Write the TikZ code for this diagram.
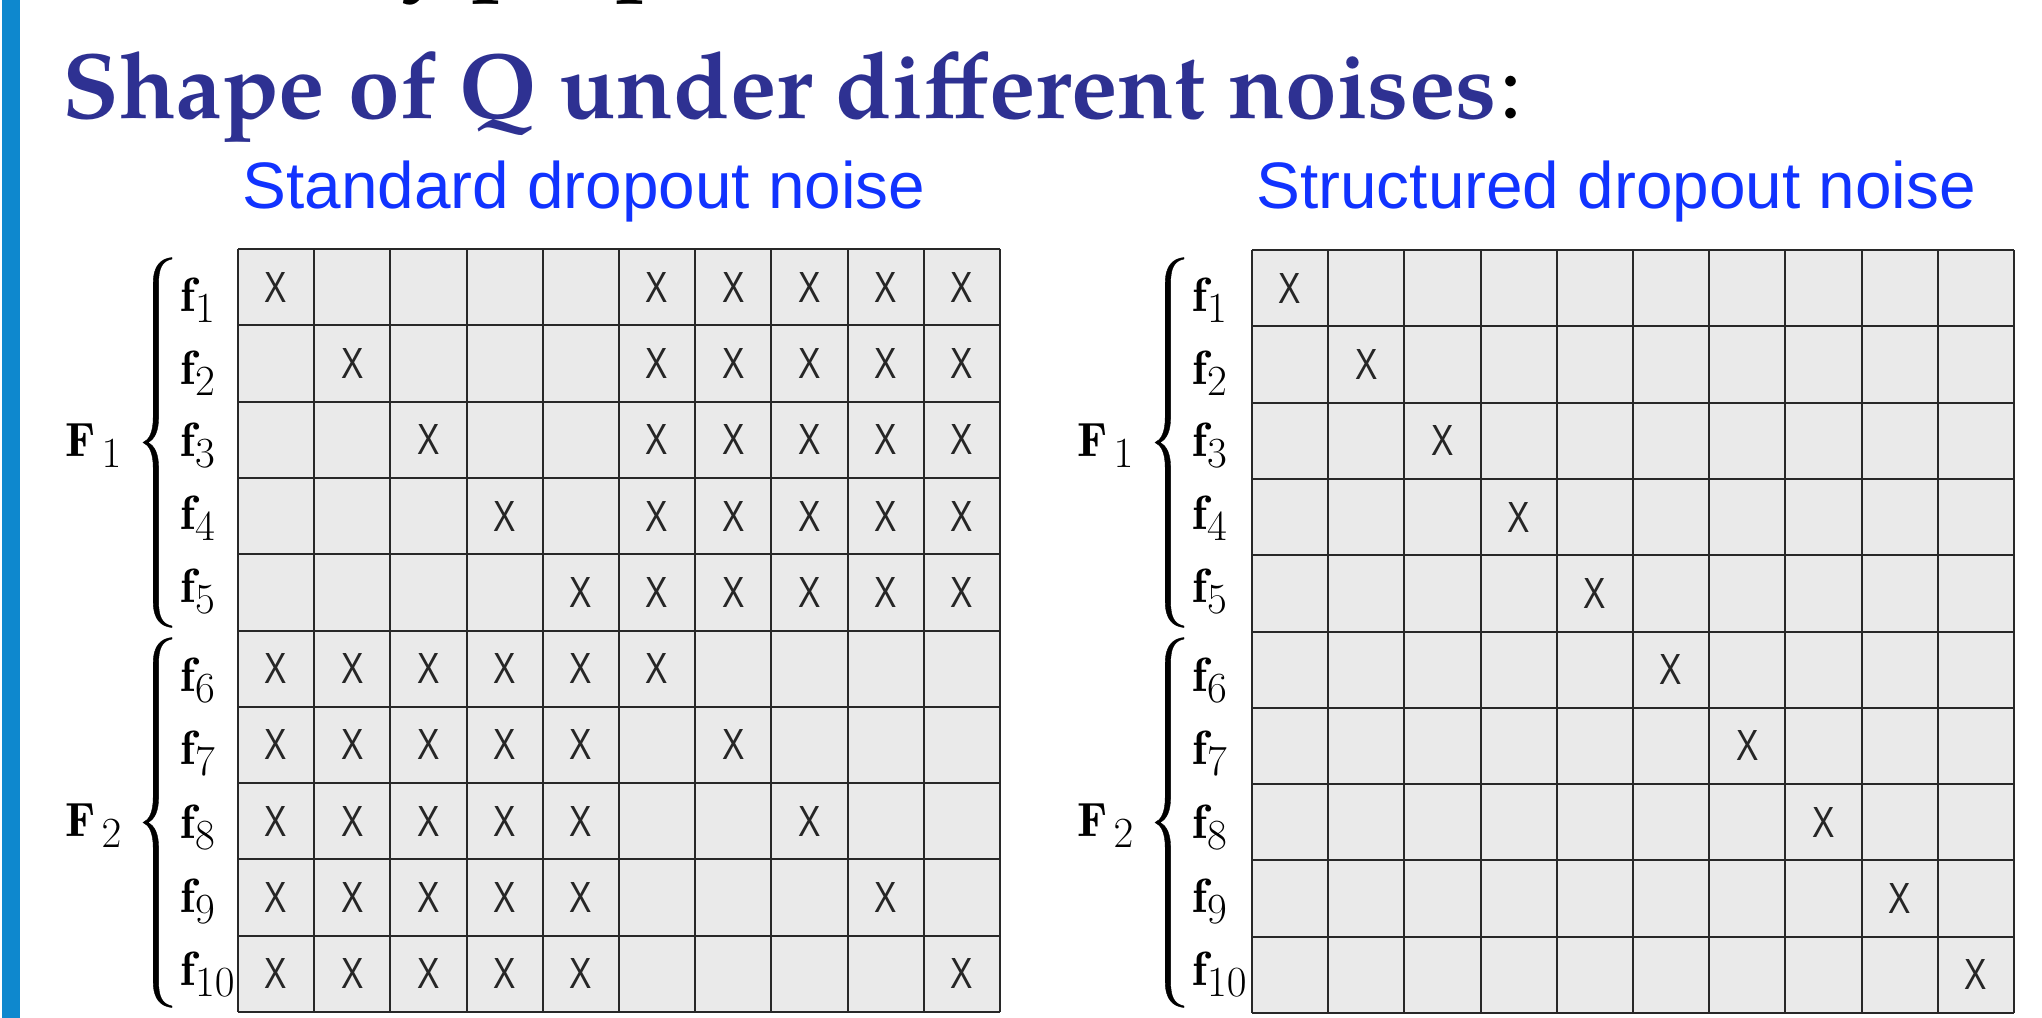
\RequirePackage{fix-cm}
\documentclass[tikz,border=0pt]{standalone}
\usepackage{graphicx}
\usepackage{fontspec}
\DeclareMathSizes{24}{24}{21.5}{15}
\newfontfamily\titlefont{TeX Gyre Pagella}
\newfontfamily\helv{Liberation Sans}
\definecolor{titleblue}{RGB}{46,49,146}
\definecolor{headblue}{RGB}{17,51,255}
\definecolor{barblue}{RGB}{14,136,206}
\definecolor{cellgray}{RGB}{234,234,234}
\definecolor{gridline}{RGB}{40,40,40}
\newcommand\xglyph{\resizebox*{11.2pt}{15pt}{X}}
\tikzset{
  gridln/.style={draw=gridline, line width=1pt},
  xmark/.style={font=\helv\fontsize{16}{17}\selectfont, text=black!85, inner sep=0, anchor=center},
  flab/.style={anchor=base west, inner sep=0, font=\fontsize{24}{28}\selectfont},
  bracefill/.style={fill=black, draw=black, line width=0.2pt},
  heading/.style={anchor=base west, inner sep=0, text=headblue, font=\helv\fontsize{32.85}{36}\selectfont},
  titletext/.style={anchor=base west, inner sep=0, font=\titlefont\bfseries\fontsize{46.4}{50}\selectfont},
}
\begin{document}
\begin{tikzpicture}[x=0.5pt,y=-0.5pt]
\useasboundingbox (0,0) rectangle (2042,1018);
\begin{scope}
\clip (0,0) rectangle (2042,1018);
% left accent bar
\fill[barblue] (2,0) rectangle (20,1018);
% cut-off line above the title
\node[titletext, anchor=base east] (cut1) at (452,-20) {y};
\node[titletext] (cut2) at (470,-20) {properties};
% title
\node[titletext, text=titleblue] (title) at (62,118) {Shape of Q under different noises};
\node[anchor=base west, inner sep=0, font=\titlefont\fontsize{46.4}{50}\selectfont, xshift=1pt] (colon) at (title.base east) {:};
% headings
\node[heading] (h1) at (242,208) {Standard dropout noise};
\node[heading] (h2) at (1256,208) {Structured dropout noise};
% grids
\foreach \gx/\gy in {238/249, 1252/250} {
  \fill[cellgray] (\gx,\gy) rectangle ({\gx+762},{\gy+763});
  \foreach \i in {0,...,10} {
    \draw[gridln] ({\gx+\i*76.2},\gy) -- ({\gx+\i*76.2},{\gy+763});
    \draw[gridln] (\gx,{\gy+\i*76.3}) -- ({\gx+762},{\gy+\i*76.3});
  }
}
% X marks, left grid
\foreach \r in {1,...,5} {
  \node[xmark] (L-\r-\r) at ({238+(\r-0.5)*76.2},{249+(\r-0.5)*76.3}) {\xglyph};
  \foreach \c in {6,...,10} {
    \node[xmark] (L-\r-\c) at ({238+(\c-0.5)*76.2},{249+(\r-0.5)*76.3}) {\xglyph};
  }
}
\foreach \r in {6,...,10} {
  \foreach \c in {1,...,5} {
    \node[xmark] (L-\r-\c) at ({238+(\c-0.5)*76.2},{249+(\r-0.5)*76.3}) {\xglyph};
  }
  \node[xmark] (L-\r-\r) at ({238+(\r-0.5)*76.2},{249+(\r-0.5)*76.3}) {\xglyph};
}
% X marks, right grid
\foreach \r in {1,...,10} {
  \node[xmark] (R-\r-\r) at ({1252+(\r-0.5)*76.2},{250+(\r-0.5)*76.3}) {\xglyph};
}
% row labels and braces
\foreach \dx/\s in {0/L,1012/R} {
  \foreach \i/\yb in {1/311,2/384,3/456,4/529,5/602,6/691,7/764,8/838,9/912,10/985} {
    \node[flab] (\s f\i) at ({180+\dx},\yb) {$\mathbf{f}_{\i}$};
  }
  \node[flab] (\s F1) at ({65+\dx},456) {$\mathbf{F}_{\mkern2.5mu 1}$};
  \node[flab] (\s F2) at ({65+\dx},836) {$\mathbf{F}_{\mkern2.5mu 2}$};
  \foreach \ym in {442.5,822.5} {
    \fill[bracefill, shift={({158+\dx},\ym)}]
      (14,-185) .. controls (3,-184) and (-4.8,-177) .. (-4.8,-159)
      -- (-4.8,-25) .. controls (-4.8,-10) and (-9,-2.5) .. (-15,0)
      .. controls (-9,2.5) and (-4.8,10) .. (-4.8,25)
      -- (-4.8,159) .. controls (-4.8,177) and (3,184) .. (14,185)
      -- (14,183.5) .. controls (4.5,181.5) and (0.6,175) .. (0.6,159)
      -- (0.6,25) .. controls (0.6,12) and (-3,3.5) .. (-10,0)
      .. controls (-3,-3.5) and (0.6,-12) .. (0.6,-25)
      -- (0.6,-159) .. controls (0.6,-175) and (4.5,-181.5) .. (14,-183.5)
      -- cycle;
  }
}
\end{scope}
\end{tikzpicture}
\end{document}
